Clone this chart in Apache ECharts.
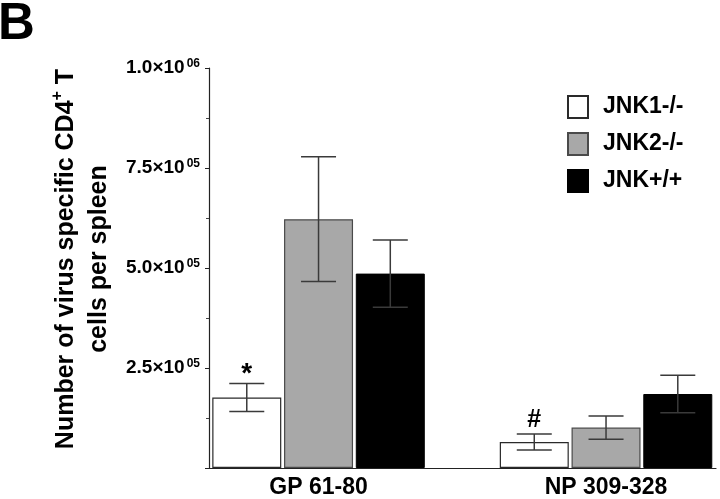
<!DOCTYPE html>
<html><head><meta charset="utf-8">
<script src="https://cdn.jsdelivr.net/npm/echarts@6/dist/echarts.min.js"></script>
<style>html,body{margin:0;padding:0;background:#fff}#c{width:720px;height:499px}</style>
</head><body><div id="c"></div>
<script>
const categories = ['GP 61-80', 'NP 309-328'];
const seriesNames = ['JNK1-/-', 'JNK2-/-', 'JNK+/+'];
const jnk1Means = [176000, 65000];
const jnk1Errors = [35000, 20000];
const jnk2Means = [622000, 101000];
const jnk2Errors = [156000, 29000];
const jnkWtMeans = [486000, 185000];
const jnkWtErrors = [84000, 47000];
const jnk1Marks = ['*', '#'];
const jnk2Marks = ['', ''];
const jnkWtMarks = ['', ''];
const yMin = 0, yMax = 1000000, yStep = 250000;

const FONT = '"Liberation Sans", Arial, Helvetica, sans-serif';
const BAR_W = 69, BAR_GAP = 0.04, CAP_W = 35;
const markStyle = {'*': {size: 28, dy: 5}, '#': {size: 25, dy: -1}};
const barStyles = [
  {color: '#ffffff', borderColor: '#2a2a2a', borderWidth: 1.2},
  {color: '#a8a8a8', borderColor: '#4a4a4a', borderWidth: 1.2},
  {color: '#000000', borderColor: '#000000', borderWidth: 1}
];
const groups = [
  {means: jnk1Means, errors: jnk1Errors, marks: jnk1Marks},
  {means: jnk2Means, errors: jnk2Errors, marks: jnk2Marks},
  {means: jnkWtMeans, errors: jnkWtErrors, marks: jnkWtMarks}
];

const series = [];
groups.forEach((g, k) => {
  series.push({
    type: 'bar', name: seriesNames[k],
    data: categories.map((c, i) => [i, g.means[i]]),
    barWidth: BAR_W, barGap: (BAR_GAP * 100) + '%',
    itemStyle: barStyles[k], z: 2, animation: false
  });
});
groups.forEach((g, k) => {
  const offset = (k - 1) * BAR_W * (1 + BAR_GAP);
  series.push({
    type: 'custom', name: 'err' + k, z: 5, clip: false, animation: false,
    data: categories.map((c, i) => [i, g.means[i], g.errors[i]]),
    encode: {x: 0, y: 1},
    renderItem: (params, api) => {
      const x = api.value(0), m = api.value(1), e = api.value(2);
      const top = api.coord([x, m + e]);
      const bot = api.coord([x, m - e]);
      const cx = top[0] + offset;
      const ls = {stroke: '#3a3a3a', lineWidth: 1.5};
      const children = [
        {type: 'line', shape: {x1: cx, y1: top[1], x2: cx, y2: bot[1]}, style: ls},
        {type: 'line', shape: {x1: cx - CAP_W / 2, y1: top[1], x2: cx + CAP_W / 2, y2: top[1]}, style: ls},
        {type: 'line', shape: {x1: cx - CAP_W / 2, y1: bot[1], x2: cx + CAP_W / 2, y2: bot[1]}, style: ls}
      ];
      const mk = g.marks[params.dataIndex];
      if (mk) {
        const st = markStyle[mk];
        children.push({type: 'text', style: {text: mk, x: cx, y: top[1] + st.dy, align: 'center', verticalAlign: 'bottom',
          fontSize: st.size, fontWeight: 'bold', fontFamily: FONT, fill: '#000'}});
      }
      return {type: 'group', children};
    }
  });
});

const chart = echarts.init(document.getElementById('c'), null, {renderer: 'canvas'});
chart.setOption({
  backgroundColor: '#fff',
  animation: false,
  title: {text: 'B', left: -2, top: -1, padding: 0,
    textStyle: {fontSize: 51, fontWeight: 'bold', color: '#000', fontFamily: FONT}},
  legend: {
    data: seriesNames, orient: 'vertical', left: 567, top: 95, padding: 0,
    itemWidth: 20, itemHeight: 22, itemGap: 13, icon: 'rect', selectedMode: false,
    textStyle: {fontSize: 23, fontWeight: 'bold', color: '#000', fontFamily: FONT, padding: [0, 0, 0, 10]}
  },
  grid: {left: 209, right: 4, top: 68, bottom: 29, containLabel: false},
  xAxis: {
    type: 'value', min: -0.381, max: 1.3825,
    axisLine: {show: true, onZero: false, lineStyle: {color: '#222', width: 1.2}},
    axisTick: {show: false}, splitLine: {show: false},
    axisLabel: {customValues: [0, 1], formatter: v => categories[Math.round(v)] || '',
      fontSize: 23, fontWeight: 'bold', color: '#000', fontFamily: FONT, margin: 8}
  },
  yAxis: {
    type: 'value', min: yMin, max: yMax, interval: yStep,
    axisLine: {show: true, onZero: false, lineStyle: {color: '#222', width: 1.2}},
    axisTick: {show: true, length: 4, lineStyle: {color: '#222'}},
    minorTick: {show: true, splitNumber: 2, length: 3, lineStyle: {color: '#444'}},
    splitLine: {show: false},
    axisLabel: {
      margin: 9, fontSize: 19, fontWeight: 'bold', color: '#000', fontFamily: FONT, lineHeight: 20,
      formatter: v => {
        if (v === 0) return '';
        const exp = Math.round(Math.floor(Math.log10(v) + 1e-9));
        const mant = (v / Math.pow(10, exp)).toFixed(1);
        return '{m|' + mant + '×10}{g|}{e|' + String(exp).padStart(2, '0') + '}';
      },
      rich: {
        m: {fontSize: 19, fontWeight: 'bold', color: '#000', fontFamily: FONT, lineHeight: 20},
        g: {width: 2, lineHeight: 20},
        e: {fontSize: 12, fontWeight: 'bold', color: '#000', fontFamily: FONT, verticalAlign: 'top', lineHeight: 12}
      }
    },
    name: '{t|Number of virus specific CD4}{s|+}{t| T}\n{t|cells per spleen}',
    nameLocation: 'middle', nameRotate: 90, nameGap: 93,
    nameTextStyle: {
      fontSize: 25, fontWeight: 'bold', color: '#000', fontFamily: FONT, lineHeight: 33, align: 'center',
      padding: [0, 0, 0, 18],
      rich: {
        t: {fontSize: 25, fontWeight: 'bold', color: '#000', fontFamily: FONT, lineHeight: 33},
        s: {fontSize: 16, fontWeight: 'bold', color: '#000', fontFamily: FONT, verticalAlign: 'top', lineHeight: 14}
      }
    }
  },
  series
});
</script></body></html>
